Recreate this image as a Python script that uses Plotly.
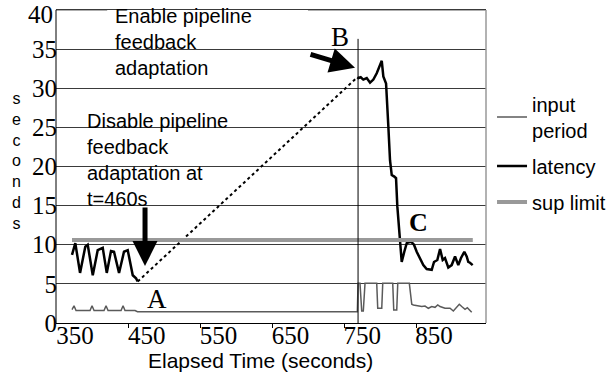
import plotly.graph_objects as go

# ---- data ----
inp_x = [345.8, 348.6, 351.4, 357, 370.9, 373.7, 376.5, 390.4, 393.2, 396, 414.1, 416.9, 419.6, 433.6, 437,
         743.2, 744.2, 746.9, 749.3, 751.5, 753.9, 770.2, 771.6, 777.2, 778.6, 792.5, 793.9, 798.1, 799.5,
         815.6, 819.0, 821.2, 828.2, 832.9, 837.5, 842.1, 846.8, 851.4, 855.2, 858.4, 865.3, 872.3, 876.9,
         881.6, 885.2, 888.6, 893.2, 896.4, 900.2, 902.5]
inp_y = [1.7, 2.2, 1.6, 1.6, 1.6, 2.2, 1.6, 1.6, 2.2, 1.6, 1.6, 2.2, 1.6, 1.6, 1.45,
         1.45, 5.07, 5.07, 1.53, 1.53, 5.07, 5.07, 1.88, 1.88, 5.07, 5.07, 1.66, 1.66, 5.07,
         5.07, 2.39, 2.3, 2.2, 2.1, 2.17, 1.88, 2.1, 2.0, 2.3, 2.1, 1.88, 1.88, 1.53,
         2.1, 2.39, 2.1, 1.75, 1.96, 1.53, 1.37]

lat_x1 = [345.8, 350.4, 357.0, 364.3, 367.7, 374.7, 381.6, 388.6, 394.2, 400.1, 404.3, 411.3, 418.2,
          423.4, 430.4, 435.0, 437.3]
lat_y1 = [8.7, 10.2, 6.4, 9.75, 10.0, 6.1, 9.3, 9.6, 6.4, 9.2, 9.1, 6.4, 9.1, 9.3, 6.1, 5.7, 5.3]

lat_x2 = [743.2, 744.6, 747.9, 751.5, 756.3, 760.9, 765.5, 770.2, 777.2, 779.4, 783.2, 784.1, 786.4,
          788.7, 791.1, 794.7, 797.1, 798.9, 801.7, 805.0, 808.6, 812.0, 818.0, 822.1, 825.9, 830.5,
          835.1, 839.8, 846.8, 850.0, 854.6, 858.4, 862.1, 865.3, 869.9, 874.6, 879.3, 883.8, 887.6,
          892.2, 895.5, 897.7, 900.1, 903.8]
lat_y2 = [31.4, 31.3, 31.4, 31.1, 31.3, 30.7, 31.1, 31.9, 33.5, 31.5, 30.6, 28.5, 25.1,
          20.8, 18.9, 18.7, 18.5, 14.9, 11.0, 7.8, 9.1, 10.2, 10.4, 10.0, 9.1, 8.3,
          7.4, 6.9, 6.8, 7.8, 8.05, 9.45, 8.05, 8.3, 7.1, 7.4, 8.5, 7.4, 8.3,
          9.1, 8.5, 7.8, 7.7, 7.4]

sup_x = [345.8, 904.0]
sup_y = [10.6, 10.6]

x_ticks = [350, 450, 550, 650, 750, 850]
y_ticks = [0, 5, 10, 15, 20, 25, 30, 35, 40]
enable_x = 744.2  # feedback re-enabled

# ---- figure ----
fig = go.Figure()
fig.add_trace(go.Scatter(x=inp_x, y=inp_y, mode="lines", name="input<br>period", legendgroup="g1",
                         line=dict(color="#5a5a5a", width=1.5)))
fig.add_trace(go.Scatter(x=[lat_x1[-1], lat_x2[0]], y=[lat_y1[-1], lat_y2[0]], mode="lines",
                         showlegend=False, line=dict(color="black", width=2, dash="dot")))
fig.add_trace(go.Scatter(x=lat_x1 + [None] + lat_x2, y=lat_y1 + [None] + lat_y2, mode="lines",
                         name="latency", legendgroup="g2", connectgaps=False,
                         line=dict(color="black", width=2.5)))
fig.add_trace(go.Scatter(x=sup_x, y=sup_y, mode="lines", name="sup limit", legendgroup="g3",
                         line=dict(color="#999999", width=4)))

serif = "Times New Roman, Liberation Serif, serif"
sans = "Arial, Liberation Sans, sans-serif"
grid_col = "#3a3a3a"

# the top label is drawn as an annotation so it is not cut off at the page edge
y_ticktext = [str(v) if v != y_ticks[-1] else "" for v in y_ticks]
y_top = y_ticks[-1]

fig.update_layout(
    width=610, height=375,
    margin=dict(l=56, r=124, t=6.1, b=52, autoexpand=False),
    paper_bgcolor="white", plot_bgcolor="white",
    showlegend=True,
    legend=dict(x=1.014, y=0.752, xanchor="left", yanchor="top", traceorder="grouped",
                font=dict(family=sans, size=20, color="black"),
                bgcolor="rgba(0,0,0,0)", tracegroupgap=7, itemwidth=30),
    xaxis=dict(range=[323.5, 922.4], tickvals=x_ticks, ticktext=[str(v) for v in x_ticks],
               showgrid=False, zeroline=False, showline=True, linecolor="black", linewidth=1,
               ticks="", ticklabelstandoff=-10, ticklabeloverflow="allow",
               tickfont=dict(family=serif, size=25, color="black"),
               minor=dict(tickmode="array", tickvals=[v + 75 for v in x_ticks[:-1]],
                          ticks="outside", ticklen=4, tickcolor="black", showgrid=False)),
    yaxis=dict(range=[0, 40.5], tickvals=y_ticks, ticktext=y_ticktext,
               showgrid=True, gridcolor=grid_col, gridwidth=1, zeroline=False,
               showline=False, ticks="",
               ticklabelstandoff=-2, ticklabeloverflow="allow",
               tickfont=dict(family=serif, size=25, color="black")),
    shapes=[
        # top gridline (drawn explicitly so it is never dropped)
        dict(type="line", xref="paper", yref="y", x0=0, x1=1, y0=y_top, y1=y_top,
             line=dict(color=grid_col, width=1), layer="between"),
        # white boxes behind annotation texts (cover gridlines)
        dict(type="rect", xref="paper", yref="paper", x0=0.119, x1=0.586, y0=0.776, y1=1.03,
             fillcolor="white", line=dict(width=0), layer="between"),
        dict(type="rect", xref="paper", yref="paper", x0=0.058, x1=0.442, y0=0.345, y1=0.68,
             fillcolor="white", line=dict(width=0), layer="between"),
        # left axis line and right frame, up to the top gridline
        dict(type="line", xref="paper", yref="y", x0=0, x1=0, y0=0, y1=y_top,
             line=dict(color="black", width=1)),
        dict(type="line", xref="paper", yref="y", x0=1, x1=1, y0=0, y1=y_top,
             line=dict(color="#999999", width=1.5)),
        # vertical marker at re-enable time
        dict(type="line", xref="x", yref="y", x0=enable_x, x1=enable_x, y0=0, y1=36.3,
             line=dict(color="black", width=1)),
    ],
    annotations=[
        dict(xref="paper", yref="y", x=(55 - 56) / 430, y=y_top, yshift=-5,
             xanchor="right", yanchor="middle", text=str(y_top), showarrow=False,
             font=dict(family=serif, size=25, color="black")),
        dict(xref="paper", yref="paper", x=0.1326, y=1.01, xanchor="left", yanchor="top",
             text="Enable pipeline<br>feedback<br>adaptation", showarrow=False, align="left",
             font=dict(family=sans, size=20, color="black")),
        dict(xref="paper", yref="paper", x=0.068, y=0.677, xanchor="left", yanchor="top",
             text="Disable pipeline<br>feedback<br>adaptation at<br>t=460s", showarrow=False,
             align="left", font=dict(family=sans, size=20, color="black")),
        # arrows
        dict(xref="x", yref="y", x=447.5, y=7.28, ax=0, ay=-60, text="", showarrow=True,
             arrowhead=2, arrowsize=1.0, arrowwidth=5, arrowcolor="black"),
        dict(xref="x", yref="y", x=740.0, y=32.6, ax=-46, ay=-14, text="", showarrow=True,
             arrowhead=2, arrowsize=1.0, arrowwidth=5, arrowcolor="black"),
        # letters
        dict(xref="x", yref="y", x=464.2, y=3.07, text="A", showarrow=False,
             xanchor="center", yanchor="middle",
             font=dict(family=serif, size=27, color="black")),
        dict(xref="x", yref="y", x=719.1, y=36.5, text="B", showarrow=False,
             xanchor="center", yanchor="middle",
             font=dict(family=serif, size=27, color="black")),
        dict(xref="x", yref="y", x=827.7, y=12.9, text="<b>C</b>", showarrow=False,
             xanchor="center", yanchor="middle",
             font=dict(family=serif, size=26, color="black")),
        # axis titles
        dict(xref="paper", yref="paper", x=(260 - 56) / 430, y=(323 - 360) / 313,
             xanchor="center", yanchor="middle", text="Elapsed Time (seconds)",
             showarrow=False, font=dict(family=sans, size=21, color="black")),
        dict(xref="paper", yref="paper", x=(16 - 56) / 430, y=(323 - 163) / 313,
             xanchor="center", yanchor="middle",
             text="s<br>e<br>c<br>o<br>n<br>d<br>s", showarrow=False,
             font=dict(family=sans, size=16, color="black")),
    ],
)

fig.write_html("out.html")
